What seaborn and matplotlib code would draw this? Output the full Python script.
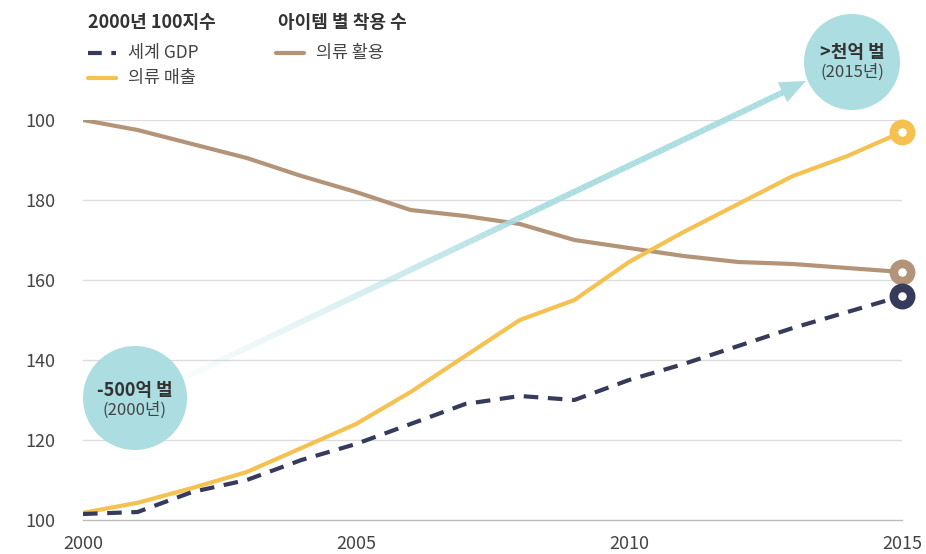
import numpy as np
import pandas as pd
import matplotlib
matplotlib.use("Agg")
import matplotlib.pyplot as plt
import seaborn as sns
from matplotlib.patches import Ellipse, Polygon
from matplotlib.collections import LineCollection
from matplotlib.lines import Line2D
from matplotlib.colors import to_rgba

years = list(range(2000, 2016))
gdp = [101.5, 102.0, 107.0, 110.0, 115.0, 119.0, 124.0, 129.0, 131.0, 130.0,
       135.0, 139.0, 143.5, 148.0, 152.0, 156.0]
sales = [101.8, 104.3, 108.0, 112.0, 118.0, 124.0, 132.0, 141.0, 150.0, 155.0,
         164.5, 172.0, 179.0, 186.0, 191.0, 197.0]
usage = [200.0, 197.5, 194.0, 190.5, 186.0, 182.0, 177.5, 176.0, 174.0, 170.0,
         168.0, 166.0, 164.5, 164.0, 163.0, 162.0]
y_ticks = [100, 120, 140, 160, 180, 200]
y_tick_labels = ["100", "120", "140", "160", "180", "100"]
x_ticks = [2000, 2005, 2010, 2015]

NAVY = "#363b5c"
YELLOW = "#f5c150"
BROWN = "#b49478"
TEAL = "#abdde1"
TXT = "#333333"

sns.set_style("white")
plt.rcParams["font.family"] = ["Noto Sans CJK KR", "DejaVu Sans"]

W, H = 926, 554
fig = plt.figure(figsize=(W / 100, H / 100), dpi=100)


def fx(x):
    return x / W


def fy(y):
    return 1 - y / H


ax = fig.add_axes([fx(83), fy(520), (902 - 83) / W, 400 / H])
ax.set_xlim(2000, 2015)
ax.set_ylim(100, 200)

for v in y_ticks[1:]:
    ax.axhline(v, color="#dcdcdc", lw=1, zorder=0)

df = pd.DataFrame({"year": years, "gdp": gdp, "sales": sales, "usage": usage})
sns.lineplot(data=df, x="year", y="usage", color=BROWN, lw=3, ax=ax, zorder=4)
sns.lineplot(data=df, x="year", y="sales", color=YELLOW, lw=3, ax=ax, zorder=4)
sns.lineplot(data=df, x="year", y="gdp", color=NAVY, lw=3, ax=ax, zorder=4,
             dashes=False)
ax.lines[-1].set_dashes((3.5, 2.3))

for vals, c in [(usage, BROWN), (sales, YELLOW), (gdp, NAVY)]:
    ax.scatter([years[-1]], [vals[-1]], s=155, facecolor="white", edgecolor=c,
               linewidth=6.2, zorder=6, clip_on=False)

ax.set_xticks(x_ticks)
ax.set_xticklabels([str(t) for t in x_ticks])
ax.set_yticks(y_ticks)
ax.set_yticklabels(y_tick_labels)
ax.tick_params(axis="x", length=8, width=1, color="#bbbbbb", pad=3,
               labelsize=13, labelcolor="#444444")
ax.tick_params(axis="y", length=0, pad=20, labelsize=13, labelcolor="#444444")
ax.set_xlabel("")
ax.set_ylabel("")
for s in ["top", "right", "left"]:
    ax.spines[s].set_visible(False)
ax.spines["bottom"].set_color("#bbbbbb")
ax.spines["bottom"].set_linewidth(1)
ax.patch.set_alpha(0)

# gradient arrow
x0, y0, x1, y1 = 150, 394, 790, 89
n = 120
xs = np.linspace(x0, x1, n + 1)
ys = np.linspace(y0, y1, n + 1)
segs = [[(fx(xs[i]), fy(ys[i])), (fx(xs[i + 1]), fy(ys[i + 1]))] for i in range(n)]
base = np.array(to_rgba(TEAL))
cols = []
for i in range(n):
    t = min(1.0, i / (0.6 * n))
    c = base.copy()
    c[3] = 0.03 + 0.97 * t ** 1.3
    cols.append(c)
lc = LineCollection(segs, colors=cols, linewidths=4.3, transform=fig.transFigure,
                    zorder=2, capstyle="butt")
fig.add_artist(lc)
tip = np.array([806, 81.0])
u = np.array([x1 - x0, y1 - y0], dtype=float)
u /= np.linalg.norm(u)
nrm = np.array([-u[1], u[0]])
bc = tip - 26 * u
pts = [tip, bc + 11 * nrm, bc - 11 * nrm]
fig.add_artist(Polygon([(fx(p[0]), fy(p[1])) for p in pts], closed=True,
                       facecolor=TEAL, edgecolor="none", transform=fig.transFigure,
                       zorder=2))

# bubbles
for cx, cy, r in [(135, 398, 52), (852, 62, 48)]:
    fig.add_artist(Ellipse((fx(cx), fy(cy)), 2 * r / W, 2 * r / H,
                           facecolor=TEAL, edgecolor="none",
                           transform=fig.transFigure, zorder=3))
fig.text(fx(135), fy(390), "-500억 벌", ha="center", va="center", fontsize=13,
         fontweight="bold", color=TXT, zorder=5)
fig.text(fx(135), fy(410), "(2000년)", ha="center", va="center", fontsize=12,
         color="#444444", zorder=5)
fig.text(fx(852), fy(52), ">천억 벌", ha="center", va="center", fontsize=13,
         fontweight="bold", color=TXT, zorder=5)
fig.text(fx(852), fy(72), "(2015년)", ha="center", va="center", fontsize=12,
         color="#444444", zorder=5)

# legend
fig.text(fx(88), fy(22), "2000년 100지수", ha="left", va="center", fontsize=13,
         fontweight="bold", color=TXT)
fig.text(fx(278), fy(22), "아이템 별 착용 수", ha="left", va="center", fontsize=13,
         fontweight="bold", color=TXT)
leg = [(88, 53, NAVY, True, "세계 GDP"), (88, 78, YELLOW, False, "의류 매출"),
       (276, 53, BROWN, False, "의류 활용")]
for lx, ly, c, dashed, label in leg:
    ln = Line2D([fx(lx), fx(lx + 28)], [fy(ly), fy(ly)], color=c, lw=3,
                transform=fig.transFigure, solid_capstyle="round")
    if dashed:
        ln.set_dashes((3.3, 2.3))
    fig.add_artist(ln)
    fig.text(fx(lx + 40), fy(ly), label, ha="left", va="center", fontsize=12.5,
             color="#444444")

plt.savefig("out.png", dpi=100)
